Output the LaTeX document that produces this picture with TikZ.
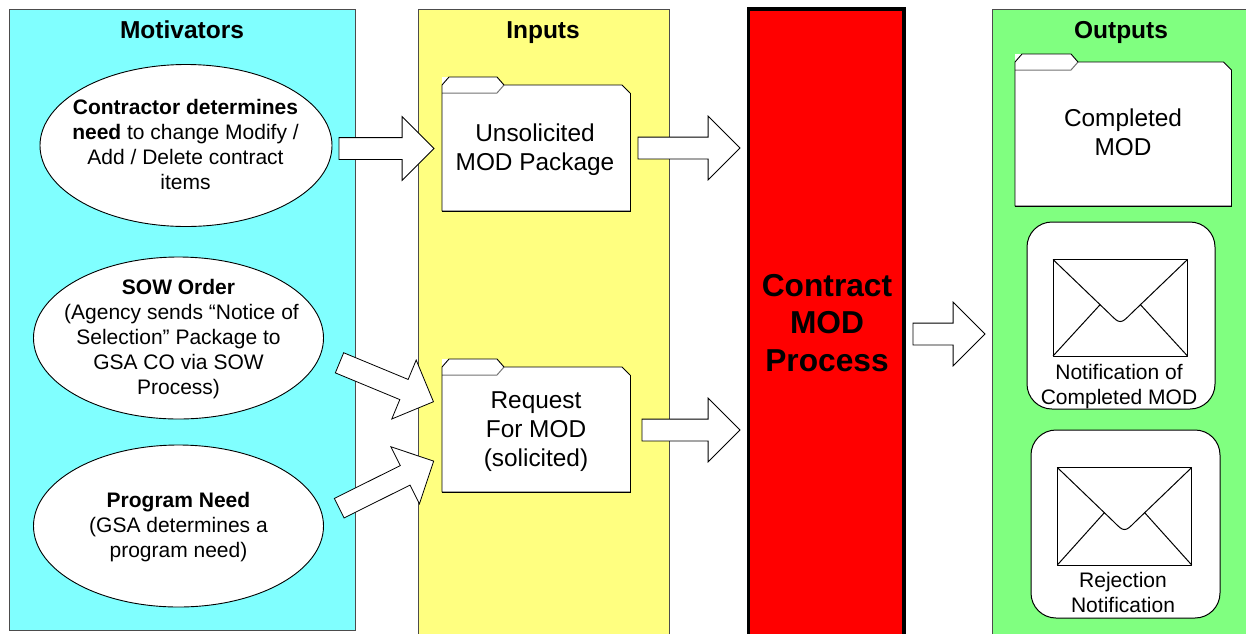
\documentclass[tikz,border=0pt]{standalone}
\usepackage{fontspec}
\setmainfont{Liberation Sans}
\usetikzlibrary{shapes.geometric,shapes.arrows}
\definecolor{pcyan}{HTML}{80FFFF}
\definecolor{pyellow}{HTML}{FFFF80}
\definecolor{pgreen}{HTML}{80FF80}
\tikzset{
  panel/.style={draw=black!70!white,line width=0.9pt,anchor=north west,inner sep=0pt,outer sep=0pt},
  title/.style={font=\fontsize{24.5}{29}\selectfont\bfseries,inner sep=0pt,anchor=base},
  oval/.style={ellipse,draw=black,line width=0.9pt,fill=white,inner sep=0pt,outer sep=0pt},
  ovaltext/.style={align=center,inner sep=0pt,font=\fontsize{21}{25}\selectfont},
  foldertext/.style={align=center,inner sep=0pt,font=\fontsize{24.4}{29}\selectfont},
  cardbox/.style={draw=black,line width=1pt,fill=white,rounded corners=25pt,anchor=north west,inner sep=0pt,outer sep=0pt},
  cardtext/.style={align=center,inner sep=0pt,font=\fontsize{21}{25}\selectfont},
  blockarrow/.style={single arrow,draw=black,line width=0.8pt,fill=white,inner xsep=0pt,inner ysep=10.5pt,outer sep=0pt,
    single arrow tip angle=90,single arrow head extend=21pt,single arrow head indent=0pt,
    minimum width=63pt,anchor=tail},
  envline/.style={draw=black,line width=1pt,line join=round},
}
% folder: left, body top, right, bottom, tab right end
\newcommand{\folderdraw}[5]{%
  \fill[white] (#1,#2-8) -- (#1+7,#2-8) -- (#5-7,#2-8) -- (#5,#2) -- (#3-8,#2) -- (#3,#2+8) -- (#3,#4) -- (#1,#4) -- (#1,#2-1) -- cycle;
  \draw[black!55!white,line width=1pt] (#3,#2+8) -- (#3,#4) -- (#1,#4);
  \draw[black!55!white,line width=1pt] (#1,#2+8) -- (#5-7,#2+8) -- (#5,#2);
  \draw[black,line width=0.9pt,line join=round] (#3,#4) -- (#1,#4) -- (#1,#2) -- (#1+7,#2-8) -- (#5-7,#2-8) -- (#5,#2) -- (#3-8,#2) -- (#3,#2+8);
  \draw[black,line width=0.7pt] (#3,#2+8) -- (#3,#4) -- (#1,#4);
}
% envelope: left, top, right, bottom
\newcommand{\envelopedraw}[4]{%
  \draw[envline] (#1,#2) rectangle (#3,#4);
  \draw[envline] (#1,#2) -- ({(#1+#3)/2-11},#2+54)
    .. controls ({(#1+#3)/2-5},#2+60) and ({(#1+#3)/2-3},#2+62) .. ({(#1+#3)/2},#2+62)
    .. controls ({(#1+#3)/2+3},#2+62) and ({(#1+#3)/2+5},#2+60) .. ({(#1+#3)/2+11},#2+54) -- (#3,#2);
  \draw[envline] (#1,#4) -- ({(#1+#3)/2-20},#2+45);
  \draw[envline] (#3,#4) -- ({(#1+#3)/2+20},#2+45);
}
\begin{document}
\begin{tikzpicture}[x=1pt,y=-1pt]
\useasboundingbox (0,0) rectangle (1246,633);
\begin{scope}
\clip (0,0) rectangle (1246,633);
\node[panel,fill=pcyan,minimum width=346pt,minimum height=621pt] (motivators) at (9,9) {};
\node[panel,fill=pyellow,minimum width=251pt,minimum height=640pt] (inputs) at (418,9) {};
\node[panel,fill=red,draw=black,line width=3.5pt,minimum width=155.5pt,minimum height=640pt] (process) at (748.5,9) {};
\node[panel,fill=pgreen,minimum width=260pt,minimum height=640pt] (outputs) at (992,9) {};
\end{scope}
\node[title] (tm) at (182,38.5) {Motivators};
\node[title] (ti) at (543,38.5) {Inputs};
\node[title] (to) at (1121,38.5) {Outputs};
\node[align=center,inner sep=0pt,font=\fontsize{31.7}{37.5}\selectfont\bfseries] (tp) at (827,323) {Contract\\MOD\\Process};

\node[oval,minimum width=292pt,minimum height=162pt] (e1) at (186,145.5) {};
\node[ovaltext] (e1t) at (185.5,144.5) {\textbf{Contractor determines}\\\textbf{need} to change Modify /\\Add / Delete contract\\items};
\node[oval,minimum width=290pt,minimum height=162pt] (e2) at (178.5,338) {};
\node[ovaltext] (e2t) at (178.5,339.5) {\textbf{SOW Order}\\\hspace*{6pt}(Agency sends “Notice of\\Selection” Package to\\GSA CO via SOW\\Process)};
\node[oval,minimum width=290pt,minimum height=162pt] (e3) at (178.5,526) {};
\node[ovaltext] (e3t) at (178.5,527.5) {\textbf{Program Need}\\(GSA determines a\\program need)};

\folderdraw{442}{85}{630}{211}{504}
\node[foldertext] (f1) at (535,150) {Unsolicited\\MOD Package};
\folderdraw{442}{367}{630}{492}{504}
\node[foldertext] (f2) at (536,432) {Request\\For MOD\\(solicited)};
\folderdraw{1015}{62}{1231.5}{206}{1078}
\node[foldertext] (f3) at (1123,132) {Completed\\MOD};

\node[cardbox,minimum width=188pt,minimum height=187pt] (c1) at (1027,222) {};
\envelopedraw{1053}{259.5}{1187.5}{356}
\node[cardtext] (c1t) at (1119,387) {Notification of\\Completed MOD};
\node[cardbox,minimum width=189pt,minimum height=188pt] (c2) at (1031,430) {};
\envelopedraw{1057.3}{467.5}{1191.7}{565}
\node[cardtext] (c2t) at (1123,592) {Rejection\\Notification};

\node[blockarrow,minimum height=95pt] (a1) at (339,148.5) {};
\node[blockarrow,minimum height=102pt] (a2) at (638,148) {};
\node[blockarrow,minimum height=101.7pt,rotate=-22.5] (a3) at (339.5,362.8) {};
\node[blockarrow,minimum height=105.6pt,rotate=26.5] (a4) at (339.2,508.2) {};
\node[blockarrow,minimum height=98pt] (a5) at (642,430) {};
\node[blockarrow,minimum height=72pt] (a6) at (913,334) {};
\end{tikzpicture}
\end{document}
